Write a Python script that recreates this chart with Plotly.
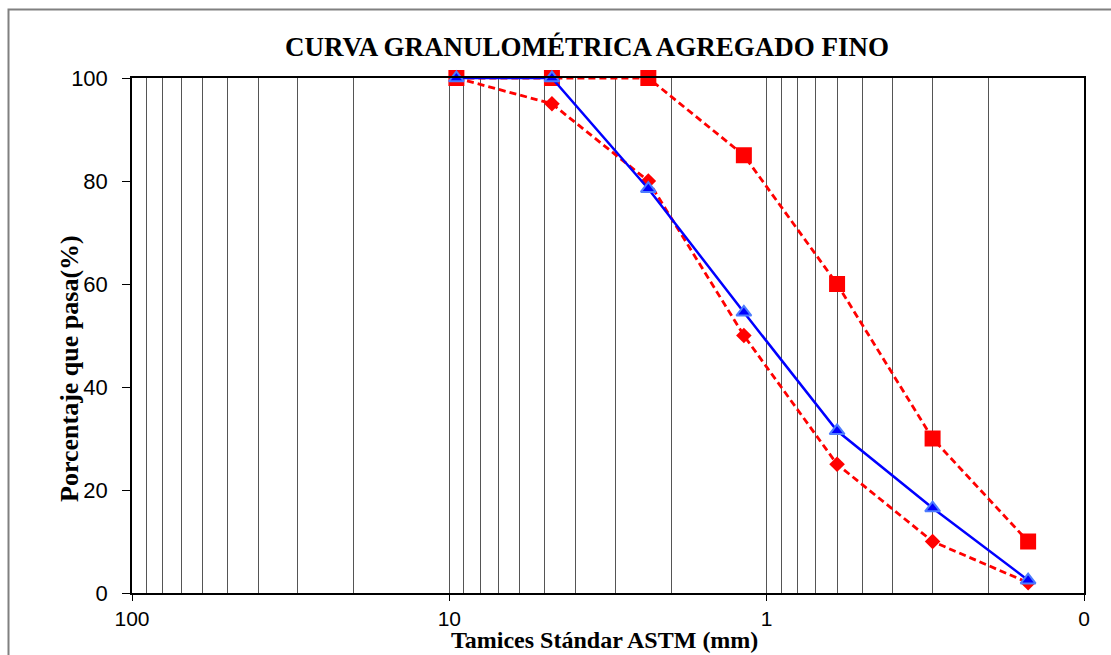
import plotly.graph_objects as go

# ---- data ----
sieve_mm = [9.5, 4.75, 2.36, 1.18, 0.6, 0.3, 0.15]
upper_limit = [100, 100, 100, 85, 60, 30, 10]
lower_limit = [100, 95, 80, 50, 25, 10, 2]
sample_pass = [100, 100, 78.5, 54.5, 31.5, 16.5, 2.5]

x_tick_vals = [100, 10, 1, 0.1]
x_tick_text = ["100", "10", "1", "0"]
y_tick_vals = [0, 20, 40, 60, 80, 100]

title_text = "CURVA GRANULOMÉTRICA AGREGADO FINO"
x_title = "Tamices Stándar ASTM (mm)"
y_title = "Porcentaje que pasa(%)"

# ---- layout geometry (pixels) ----
W, H = 1111, 655
L, R, T, B = 132, 1084, 78, 593
pw, ph = R - L, B - T

def px_x(p):
    return (p - L) / pw

def px_y(p):
    return (B - p) / ph

minor_grid = [m * d for d in (0.1, 1, 10) for m in range(2, 10)]

fig = go.Figure()

fig.add_trace(go.Scatter(
    x=sieve_mm, y=lower_limit, mode="lines+markers", name="Límite inferior",
    line=dict(color="#FF0000", width=2.8, dash="7px,4px"),
    marker=dict(symbol="diamond", size=12, color="#FF0000"),
    cliponaxis=False,
))
fig.add_trace(go.Scatter(
    x=sieve_mm, y=upper_limit, mode="lines+markers", name="Límite superior",
    line=dict(color="#FF0000", width=2.8, dash="7px,4px"),
    marker=dict(symbol="square", size=16, color="#FF0000"),
    cliponaxis=False,
))
fig.add_trace(go.Scatter(
    x=sieve_mm, y=sample_pass, mode="lines+markers", name="Muestra",
    line=dict(color="#0000FF", width=2.5),
    marker=dict(symbol="triangle-up", size=13, color="#0000FF",
                line=dict(color="#4D7CFF", width=2)),
    cliponaxis=False,
))

fig.update_layout(
    width=W, height=H,
    margin=dict(l=L, r=W - R, t=T, b=H - B),
    paper_bgcolor="white", plot_bgcolor="white",
    showlegend=False,
    title=dict(text="<b>" + title_text + "</b>", x=px_x(587), xref="paper",
               xanchor="center", y=1 - 47 / H, yanchor="middle",
               font=dict(family="Liberation Serif", size=27, color="black")),
    xaxis=dict(
        type="log", range=[2, -1],
        tickmode="array", tickvals=x_tick_vals, ticktext=x_tick_text,
        ticks="outside", ticklen=6, tickcolor="black", tickwidth=1,
        ticklabelstandoff=0,
        tickfont=dict(family="Liberation Sans", size=21, color="black"),
        showline=True, linecolor="black", linewidth=1.5, mirror=True,
        showgrid=True, gridcolor="#555555", gridwidth=1,
        minor=dict(tickmode="array", tickvals=minor_grid, showgrid=True,
                   gridcolor="#555555", gridwidth=1, ticks=""),
        zeroline=False,
    ),
    yaxis=dict(
        range=[0, 100], tickmode="array", tickvals=y_tick_vals,
        ticks="outside", ticklen=8, tickcolor="black", tickwidth=1,
        ticklabelstandoff=10,
        tickfont=dict(family="Liberation Sans", size=22, color="black"),
        showline=True, linecolor="black", linewidth=1.5, mirror=True,
        showgrid=False, zeroline=False,
    ),
    annotations=[
        dict(text="<b>" + y_title + "</b>", xref="paper", yref="paper",
             x=px_x(69), y=px_y(369), xanchor="center", yanchor="middle",
             textangle=-90, showarrow=False,
             font=dict(family="Liberation Serif", size=26, color="black")),
        dict(text="<b>" + x_title + "</b>", xref="paper", yref="paper",
             x=px_x(604), y=px_y(640), xanchor="center", yanchor="middle",
             showarrow=False,
             font=dict(family="Liberation Serif", size=24, color="black")),
    ],
    shapes=[
        dict(type="rect", xref="paper", yref="paper",
             x0=px_x(8.5), x1=px_x(1130), y0=px_y(680), y1=px_y(9.5),
             line=dict(color="#808080", width=2), fillcolor="rgba(0,0,0,0)",
             layer="below"),
    ],
)

fig.write_html("out.html")
